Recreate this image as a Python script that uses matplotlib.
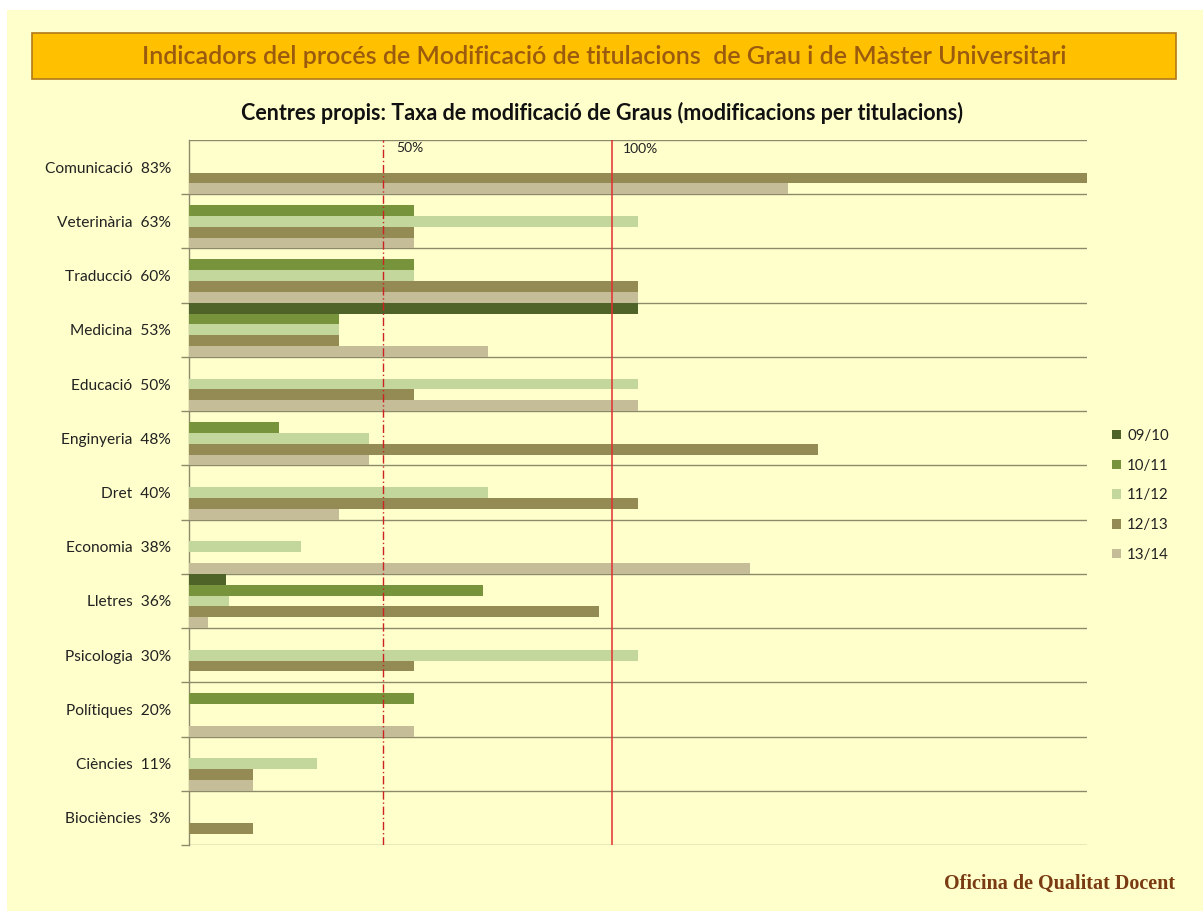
import matplotlib
matplotlib.use("Agg")
import matplotlib.pyplot as plt
from matplotlib.patches import Rectangle
import numpy as np

categories = ["Comunicació", "Veterinària", "Traducció", "Medicina", "Educació",
              "Enginyeria", "Dret", "Economia", "Lletres", "Psicologia",
              "Polítiques", "Ciències", "Biociències"]
totals = ["83%", "63%", "60%", "53%", "50%", "48%", "40%", "38%", "36%", "30%",
          "20%", "11%", "3%"]
series_names = ["09/10", "10/11", "11/12", "12/13", "13/14"]
s0910 = [0, 0, 0, 1.0, 0, 0, 0, 0, 0.083, 0, 0, 0, 0]
s1011 = [0, 0.5, 0.5, 0.333, 0, 0.2, 0, 0, 0.654, 0, 0.5, 0, 0]
s1112 = [0, 1.0, 0.5, 0.333, 1.0, 0.4, 0.667, 0.25, 0.09, 1.0, 0, 0.286, 0]
s1213 = [2.0, 0.5, 1.0, 0.333, 0.5, 1.4, 1.0, 0, 0.913, 0.5, 0, 0.143, 0.143]
s1314 = [1.333, 0.5, 1.0, 0.667, 1.0, 0.4, 0.333, 1.25, 0.042, 0, 0.5, 0.143, 0]
colors = ["#4F6228", "#77933C", "#C3D69B", "#948A54", "#C4BD97"]

title = "Indicadors del procés de Modificació de titulacions  de Grau i de Màster Universitari"
subtitle = "Centres propis: Taxa de modificació de Graus (modificacions per titulacions)"
footer = "Oficina de Qualitat Docent"

FONT = ["Lato", "DejaVu Sans"]
plt.rcParams['font.family'] = FONT

W, H = 1203, 911
fig = plt.figure(figsize=(W / 100, H / 100), dpi=100)
fig.patch.set_facecolor("white")

def fx(px):
    return px / W

def fy(py):
    return 1 - py / H

# yellow background
fig.patches.append(Rectangle((fx(7), 0), 1 - fx(7), fy(10), transform=fig.transFigure,
                             facecolor="#FFFFCC", edgecolor="none", zorder=-10))
# banner
fig.patches.append(Rectangle((fx(32), fy(79)), fx(1176 - 32), (79 - 33) / H,
                             transform=fig.transFigure, facecolor="#FFC000",
                             edgecolor="#B07A1A", linewidth=1.2, zorder=-5))
fig.text(fx(604), fy(57), title, ha="center", va="center", fontsize=18,
         fontweight="semibold", color="#9B5B0E", family=FONT)
fig.text(fx(602), fy(113), subtitle, ha="center", va="center", fontsize=15.5,
         fontweight="bold", color="#111111", family=FONT)
fig.text(fx(1175), fy(884), footer, ha="right", va="center", fontsize=14.5,
         fontweight="bold", color="#7A3B12", family=["Liberation Serif", "DejaVu Serif"])

ax = fig.add_axes([fx(189), fy(845), fx(1087 - 189), (845 - 140) / H])
ax.set_facecolor("none")

series = [s0910, s1011, s1112, s1213, s1314]
n = len(categories)
idx = np.arange(n)
for j, (vals, c, name) in enumerate(zip(series, colors, series_names)):
    ax.barh(idx + 0.1 + 0.2 * j, vals, height=0.2, color=c, label=name,
            edgecolor="none", zorder=3)

ax.set_xlim(0, 2.0)
ax.set_ylim(n, 0)

# horizontal separators
for y in range(n + 1):
    ax.axhline(y, color="#8C8A6A", linewidth=1.0, zorder=1)

# reference lines
ax.axvline(0.433, color="#CC2222", linewidth=1.0, linestyle=(0, (6, 2, 1, 2)), zorder=4)
ax.axvline(0.942, color="#E03030", linewidth=1.1, zorder=4)
ax.text(0.462, 0.14, "50%", fontsize=10, color="#222222", va="center", ha="left")
ax.text(0.967, 0.16, "100%", fontsize=10, color="#222222", va="center", ha="left")

for s in ["top", "right", "bottom"]:
    ax.spines[s].set_visible(False)
ax.spines["left"].set_color("#8C8A6A")
ax.spines["left"].set_linewidth(1.0)

ax.set_xticks([])
ax.set_yticks(idx + 0.5)
ax.set_yticklabels([f"{c}  {t}" for c, t in zip(categories, totals)], fontsize=11.2,
                   color="#222222")
ax.tick_params(axis="y", which="major", length=0, pad=13)
ax.set_yticks(np.arange(1, n + 1), minor=True)
ax.tick_params(axis="y", which="minor", length=6, color="#8C8A6A", width=1)

leg = ax.legend(loc="upper left", bbox_to_anchor=((1106 - 189) / 898, 1 - (433 - 140 - 10) / 705),
                frameon=False, fontsize=10.8, handlelength=0.6, handleheight=0.6,
                handletextpad=0.4, labelspacing=1.05, borderaxespad=0)
for t in leg.get_texts():
    t.set_color("#222222")

fig.savefig("out.png", dpi=100, facecolor=fig.get_facecolor())
